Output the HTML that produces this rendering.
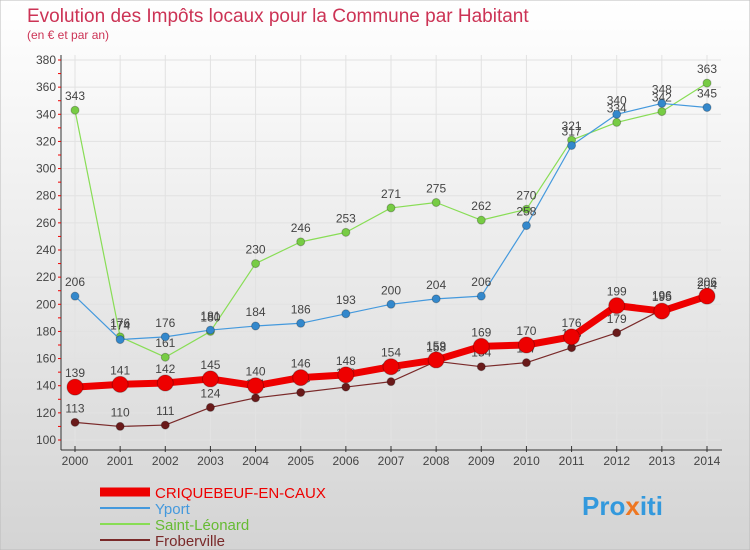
<!DOCTYPE html>
<html><head><meta charset="utf-8"><style>
body{margin:0;width:750px;height:550px;overflow:hidden;font-family:"Liberation Sans",sans-serif}
svg{display:block}
</style></head><body>
<svg id="chart" width="750" height="550">
<defs><linearGradient id="bg" x1="0" y1="0" x2="0" y2="1"><stop offset="0" stop-color="#ffffff"/><stop offset="1" stop-color="#d4d4d4"/></linearGradient></defs>
<rect x="0" y="0" width="750" height="550" fill="url(#bg)" stroke="#bbb"/>
<text x="27" y="22" font-size="19" fill="#cc3355">Evolution des Impôts locaux pour la Commune par Habitant</text>
<text x="27" y="39" font-size="12" fill="#cc3355">(en € et par an)</text>
<g id="grid"></g><g id="axes"></g><g id="series"></g><g id="legend"></g>
<text x="582" y="515" font-size="26" font-weight="bold" fill="#3399dd">Pro<tspan fill="#ee7722">x</tspan>iti</text>
</svg>
<script>
const years=[2000,2001,2002,2003,2004,2005,2006,2007,2008,2009,2010,2011,2012,2013,2014];
const yTicks=[100,120,140,160,180,200,220,240,260,280,300,320,340,360,380];
const seriesNames=["CRIQUEBEUF-EN-CAUX","Yport","Saint-Léonard","Froberville"];
const criquebeuf=[139,141,142,145,140,146,148,154,159,169,170,176,199,195,206];
const yport=[206,174,176,181,184,186,193,200,204,206,258,317,340,348,345];
const saintLeonard=[343,176,161,180,230,246,253,271,275,262,270,321,334,342,363];
const froberville=[113,110,111,124,131,135,139,143,158,154,157,168,179,196,204];
const NS="http://www.w3.org/2000/svg";
const x0=75,x1=707,yb=440,yt=60,vmin=100,vmax=380;
const xs=i=>x0+(x1-x0)*i/(years.length-1);
const ys=v=>yb-(v-vmin)*(yb-yt)/(vmax-vmin);
function mk(t,a,p){const e=document.createElementNS(NS,t);for(const k in a)e.setAttribute(k,a[k]);p.appendChild(e);return e;}
const grid=document.getElementById('grid'),axes=document.getElementById('axes'),ser=document.getElementById('series'),leg=document.getElementById('legend');
yTicks.forEach(v=>{
 const l=mk('line',{x1:x0-14,x2:x1+14,y1:ys(v),y2:ys(v),stroke:'#e2e2e2'},grid);
 
 
 const t=mk('text',{x:56,y:ys(v)+4,'font-size':12,fill:'#444','text-anchor':'end'},axes);t.textContent=v;
 
 
});
years.forEach((y,i)=>{
 const l=mk('line',{x1:xs(i),x2:xs(i),y1:yt-5,y2:yb+8,stroke:'#e2e2e2'},grid);
 
 
 mk('line',{x1:xs(i),x2:xs(i),y1:yb+6,y2:yb+12,stroke:'#333'},axes);
 const t=mk('text',{x:xs(i),y:yb+25,'font-size':12,fill:'#444','text-anchor':'middle'},axes);t.textContent=y;
 
 
});
const ya=mk('line',{x1:61,x2:61,y1:yt-5,y2:yb+10,stroke:'#333'},axes);


const xa=mk('line',{x1:61,x2:x1+15,y1:yb+10,y2:yb+10,stroke:'#333'},axes);


for(let v=100;v<=380;v+=10){const m=mk('line',{x1:58,x2:61,y1:ys(v),y2:ys(v),stroke:'#e00'},axes);}
const defs=[
 {d:froberville,c:'#7a2a2a',w:1.2,r:4,fc:'#6a1a1a'},
 {d:saintLeonard,c:'#88dd55',w:1.2,r:4,fc:'#77cc44'},
 {d:yport,c:'#4499dd',w:1.2,r:4,fc:'#3388cc'},
 {d:criquebeuf,c:'#ee0000',w:7,r:8,fc:'#ee0000'}];
const idx=[3,2,1,0];
defs.forEach((s,k)=>{
 const name=seriesNames[idx[k]];const slug=name.toLowerCase().replace(/[^a-z]+/g,'-');
 const g=mk('g',{},ser);
 
 
 const p=mk('polyline',{points:s.d.map((v,i)=>xs(i)+','+ys(v)).join(' '),fill:'none',stroke:s.c,'stroke-width':s.w,'stroke-linejoin':'round'},g);
 
 
 s.d.forEach((v,i)=>{
  const c=mk('circle',{cx:xs(i),cy:ys(v),r:s.r,fill:s.fc,stroke:'rgba(0,0,0,0.25)','stroke-width':1},g);
  
  
  const t=mk('text',{x:xs(i),y:ys(v)-10,'font-size':12,fill:'#444','text-anchor':'middle'},g);t.textContent=v;
  
  
 });
});
const legC=['#ee0000','#4499dd','#88dd55','#7a2a2a'],legW=[9,2,2,2];
seriesNames.forEach((n,i)=>{
 const y=492+i*16;
 const g=mk('g',{},leg);
 
 
 mk('line',{x1:100,x2:150,y1:y,y2:y,stroke:legC[i],'stroke-width':legW[i]},g);
 const t=mk('text',{x:155,y:y+6,'font-size':15,fill:legC[i]==='#88dd55'?'#66bb33':legC[i]},g);t.textContent=n;
});
</script>
</body></html>
